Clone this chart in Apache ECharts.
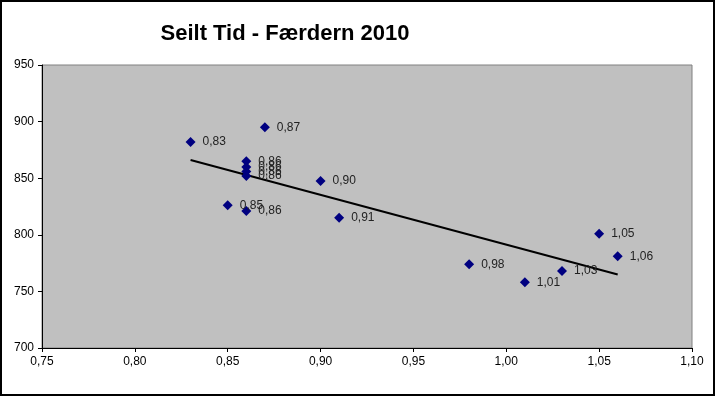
<!DOCTYPE html>
<html><head><meta charset="utf-8">
<script src="https://cdn.jsdelivr.net/npm/echarts@6/dist/echarts.min.js"></script>
<style>html,body{margin:0;padding:0;background:#fff}#c{width:715px;height:396px}</style>
</head><body><div id="c"></div>
<script>
const titleText = 'Seilt Tid - Færdern 2010';
const xValues = [0.83, 0.87, 0.86, 0.86, 0.86, 0.86, 0.85, 0.86, 0.90, 0.91, 0.98, 1.01, 1.03, 1.05, 1.06];
const yValues = [882, 895, 865, 860, 856, 852, 826, 821, 847.5, 815, 774, 758, 768, 801, 781];
const xTicks = {min: 0.75, max: 1.10, step: 0.05};
const yTicks = {min: 700, max: 950, step: 50};

const pts = xValues.map((x, i) => [x, yValues[i]]);
// linear trend line from data
const n = xValues.length;
const mx = xValues.reduce((a, b) => a + b, 0) / n;
const my = yValues.reduce((a, b) => a + b, 0) / n;
let sxy = 0, sxx = 0;
for (let i = 0; i < n; i++) { sxy += (xValues[i] - mx) * (yValues[i] - my); sxx += (xValues[i] - mx) ** 2; }
const slope = sxy / sxx, icpt = my - slope * mx;
const xmin = Math.min(...xValues), xmax = Math.max(...xValues);
const trend = [[xmin, icpt + slope * xmin], [xmax, icpt + slope * xmax]];

const fmt = v => v.toFixed(2).replace('.', ',');
const chart = echarts.init(document.getElementById('c'));
chart.setOption({
  animation: false,
  backgroundColor: '#fff',
  graphic: [{type: 'rect', shape: {x: 1, y: 1, width: 713, height: 394}, style: {fill: 'none', stroke: '#000', lineWidth: 2}, z: 100}],
  title: {text: titleText, left: 280, top: 18, textAlign: 'center',
    textStyle: {fontFamily: 'Liberation Sans, Arial', fontWeight: 'bold', fontSize: 22, color: '#000'}},
  grid: {left: 42, right: 23, top: 65, bottom: 48, show: true, backgroundColor: '#C0C0C0', borderColor: '#808080', borderWidth: 1},
  xAxis: {type: 'value', min: xTicks.min, max: xTicks.max, interval: xTicks.step,
    splitLine: {show: false},
    axisLine: {show: true, onZero: false, lineStyle: {color: '#000', width: 1}},
    axisTick: {show: true, inside: false, length: 4, lineStyle: {color: '#000'}},
    axisLabel: {formatter: v => fmt(v), color: '#000', fontSize: 12, fontFamily: 'Liberation Sans, Arial', margin: 8}},
  yAxis: {type: 'value', min: yTicks.min, max: yTicks.max, interval: yTicks.step,
    splitLine: {show: false},
    axisLine: {show: true, onZero: false, lineStyle: {color: '#000', width: 1}},
    axisTick: {show: true, inside: false, length: 4, lineStyle: {color: '#000'}},
    axisLabel: {color: '#000', fontSize: 12, fontFamily: 'Liberation Sans, Arial', margin: 8}},
  series: [
    {type: 'line', data: trend, symbol: 'none', lineStyle: {color: '#000', width: 2}, z: 2, silent: true},
    {type: 'scatter', data: pts, symbol: 'diamond', symbolSize: 10, itemStyle: {color: '#000080', opacity: 1}, z: 3,
      label: {show: true, position: 'right', distance: 7, formatter: p => fmt(p.value[0]),
        color: '#222', fontSize: 12, fontFamily: 'Liberation Sans, Arial'}}
  ]
});
</script></body></html>
